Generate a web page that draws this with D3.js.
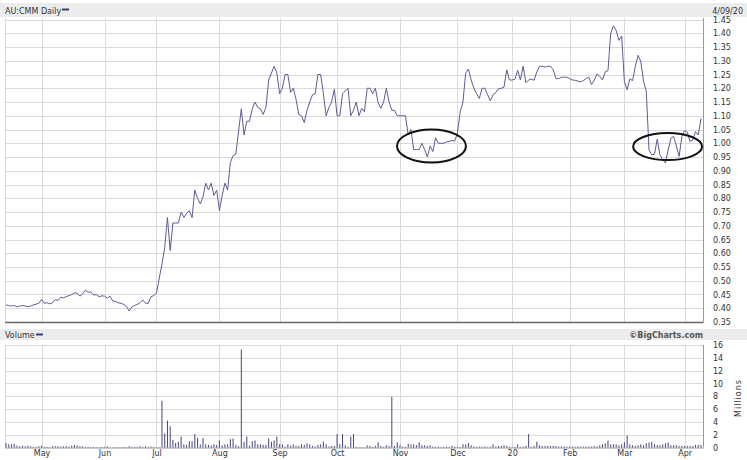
<!DOCTYPE html>
<html>
<head>
<meta charset="utf-8">
<script src="https://cdn.jsdelivr.net/npm/d3@7"></script>
<style>
body { margin: 0; background: #fff; }
svg text { font-family: "DejaVu Sans", Verdana, sans-serif; }
</style>
</head>
<body>
<svg id="chart" width="747" height="460"></svg>
<script>
// trading calendar (ASX), Apr 9 2019 - Apr 9 2020
const firstDay = "2019-04-09", lastDay = "2020-04-09";
const holidays = ["2019-04-19", "2019-04-22", "2019-04-25", "2019-06-10",
    "2019-12-25", "2019-12-26", "2020-01-01", "2020-01-27"];
const monthLabels = ["May", "Jun", "Jul", "Aug", "Sep", "Oct", "Nov", "Dec", "20", "Feb", "Mar", "Apr"];
const priceTicks = [0.35, 0.40, 0.45, 0.50, 0.55, 0.60, 0.65, 0.70, 0.75, 0.80, 0.85, 0.90,
    0.95, 1.00, 1.05, 1.10, 1.15, 1.20, 1.25, 1.30, 1.35, 1.40, 1.45];
const volumeTicks = [0, 2, 4, 6, 8, 10, 12, 14, 16];

// daily close, AUD
const closes = [
    0.412, 0.410, 0.408, 0.410, 0.405, 0.408, 0.410, 0.408, 0.406, 0.408,
    0.412, 0.415, 0.418, 0.432, 0.418, 0.420, 0.416, 0.420, 0.432, 0.428,
    0.440, 0.438, 0.442, 0.446, 0.450, 0.456, 0.455, 0.444, 0.452, 0.466,
    0.458, 0.460, 0.448, 0.450, 0.442, 0.445, 0.444, 0.437, 0.444, 0.426,
    0.425, 0.420, 0.418, 0.414, 0.407, 0.390, 0.405, 0.410, 0.414, 0.420,
    0.430, 0.418, 0.418, 0.442, 0.446, 0.455,
    0.51, 0.56, 0.62, 0.73, 0.61, 0.71, 0.71, 0.71, 0.75, 0.73,
    0.745, 0.755, 0.73, 0.83, 0.80, 0.78, 0.805, 0.855, 0.83, 0.855,
    0.81, 0.83, 0.755, 0.81, 0.855, 0.83, 0.93, 0.955, 0.96, 1.045,
    1.125, 1.03, 1.08, 1.08, 1.125, 1.15, 1.13, 1.125, 1.105, 1.13,
    1.23, 1.255, 1.28, 1.255, 1.18, 1.20, 1.25, 1.25, 1.185, 1.20,
    1.16, 1.105,
    1.10, 1.075, 1.12, 1.15, 1.176, 1.18, 1.25, 1.25, 1.18, 1.10,
    1.13, 1.15, 1.196, 1.10, 1.10, 1.18, 1.19, 1.20, 1.10, 1.12,
    1.15, 1.10, 1.127, 1.115, 1.20, 1.20, 1.18, 1.20, 1.148, 1.127,
    1.15, 1.20, 1.15, 1.12, 1.12, 1.10, 1.10, 1.10, 1.10, 1.03,
    1.05, 0.977, 0.977, 0.977, 1.00, 0.977, 0.95, 0.99, 0.97, 1.02,
    1.00, 1.00, 1.00, 1.005, 1.007, 1.01, 1.008, 1.037, 1.115, 1.15,
    1.255, 1.27, 1.23, 1.20, 1.18, 1.163,
    1.20, 1.20, 1.177, 1.154, 1.177, 1.185, 1.198, 1.20, 1.204, 1.267,
    1.23, 1.23, 1.233, 1.265, 1.23, 1.28, 1.22, 1.23, 1.233, 1.229,
    1.26, 1.28, 1.28, 1.277, 1.28, 1.28, 1.267, 1.235, 1.235, 1.24,
    1.24, 1.24, 1.235, 1.23, 1.229, 1.226, 1.223, 1.228, 1.235, 1.24,
    1.213, 1.23, 1.252, 1.243, 1.23, 1.26, 1.264, 1.40, 1.427, 1.41,
    1.374, 1.39, 1.225, 1.195, 1.234, 1.228, 1.28, 1.32, 1.298, 1.225,
    1.19,
    0.976, 0.958, 0.96, 1.015, 0.958, 0.94, 0.928, 0.976, 1.018, 1.025,
    0.99, 0.952, 1.025, 1.046, 1.04, 1.006, 1.012, 1.042, 1.03, 1.09
];

// daily volume, millions of shares
const volumes = [
    0.7, 0.5, 0.5, 0.6, 0.3, 0.2, 0.3, 0.2, 0.3, 0.2,
    0.1, 0.1, 0.2, 0.3, 0.1, 0.1, 0.05, 0.2, 0.2, 0.2,
    0.15, 0.2, 0.2, 0.15, 0.3, 0.4, 0.3, 0.2, 0.2, 0.1,
    0.1, 0.1, 0.1, 0.05, 0.05, 0.1, 0.1, 0.2, 0.05, 0.05,
    0.05, 0.05, 0.05, 0.1, 0.05, 0.2, 0.1, 0.1, 0.1, 0.2,
    0.1, 0.2, 0.1, 0.15, 0.1, 0.05, 0.05,
    7.3, 2.2, 4.2, 3.3, 1.2, 0.7, 0.9, 1.7, 0.5, 0.4,
    1.0, 1.0, 2.1, 1.5, 0.5, 1.5, 0.5, 0.4, 0.3, 0.5,
    0.4, 1.1, 0.3, 0.5, 0.5, 1.3, 1.4, 0.4, 0.2, 15.3,
    0.9, 1.7,
    0.3, 1.0, 1.1, 0.5, 0.5, 0.4, 0.4, 1.4, 0.9, 1.1, 1.7,
    0.5, 0.5, 0.15, 0.5, 0.25, 0.5, 0.25, 0.25, 0.5, 0.4,
    0.65, 0.5, 0.25, 0.15, 0.4, 0.5, 0.9, 0.5, 0.15, 0.25,
    0.25, 2.1, 0.5, 2.1, 0.35, 0.1, 1.7, 2.1, 0.1, 0.05,
    0.05, 0.05, 0.35, 0.25, 0.1, 0.25, 0.8, 0.25, 0.1, 0.35,
    0.25, 7.9, 0.25, 0.8, 0.35, 0.15, 0.1, 0.6, 0.5, 0.5,
    0.35, 0.8, 0.35, 0.35, 0.25, 0.35, 0.15, 0.1, 0.15, 0.1,
    0.1, 0.15, 0.1, 0.25, 0.15, 0.1, 0.1, 0.5, 0.5, 0.7,
    0.35, 0.15, 0.1, 0.15, 0.1, 0.15, 0.1, 0.15, 0.5, 0.15,
    0.25,
    0.25, 0.35, 0.25, 0.1, 0.1, 0.1, 0.5, 0.1, 0.15, 0.25,
    2.1, 0.1, 0.25, 0.9, 0.35, 0.25, 0.25, 0.25, 0.25, 0.25,
    0.25, 0.15, 0.15, 0.15, 0.15, 0.15, 0.15, 0.15, 0.15, 0.15,
    0.15, 0.15, 0.15, 0.15, 0.2, 0.2, 0.35, 0.5, 0.65, 1.1,
    0.5, 0.5, 0.5, 0.35, 0.5, 0.8, 1.9, 0.5, 0.35, 0.25,
    0.35, 0.5, 0.35, 0.65, 0.8, 0.9, 0.5, 0.35, 0.35, 0.5,
    0.65, 0.8, 0.35, 0.35, 0.35, 0.25, 0.25, 0.25, 0.25, 0.25,
    0.25, 0.4, 0.4, 0.4
];

// hand-drawn circles: centre (day index, price) and half sizes (days, price)
const ringDay = [155.5, 241.8];
const ringPrice = [0.99, 0.988];
const ringHalfDays = [12.6, 12.6];
const ringHalfPrice = [0.06, 0.049];

const fmtDay = d3.utcFormat("%Y-%m-%d");
const days = d3.utcDay.range(new Date(firstDay), d3.utcDay.offset(new Date(lastDay), 1))
    .filter(d => d.getUTCDay() !== 0 && d.getUTCDay() !== 6 && !holidays.includes(fmtDay(d)));

let monthStarts = [];
days.forEach((d, i) => {
    if (i > 0 && d.getUTCMonth() !== days[i - 1].getUTCMonth()) monthStarts.push(i);
});

const svg = d3.select("#chart");
const left = 5, right = 703;
const pTop = 18, pBottom = 322;
const vTop = 345, vBottom = 447.5;

const x = d3.scaleLinear().domain([0, days.length - 1]).range([6, 701]);
const yP = d3.scaleLinear().domain([0.35, 1.45]).range([pBottom, 19.5]);
const yV = d3.scaleLinear().domain([0, 16]).range([vBottom, vTop]);

// header bars
svg.append("rect").attr("x", 0).attr("y", 3).attr("width", 747).attr("height", 14).attr("fill", "#ececec");
svg.append("rect").attr("x", 0).attr("y", 329).attr("width", 747).attr("height", 11).attr("fill", "#ececec");

svg.append("text").attr("x", 5).attr("y", 13.5).attr("font-size", 8).attr("fill", "#333").text("AU:CMM Daily");
svg.append("rect").attr("x", 62).attr("y", 8.5).attr("width", 7).attr("height", 2).attr("fill", "#3a3a78");
svg.append("text").attr("x", 743).attr("y", 13.5).attr("font-size", 8).attr("fill", "#333")
    .attr("text-anchor", "end").text("4/09/20");

svg.append("text").attr("x", 5).attr("y", 338).attr("font-size", 8).attr("fill", "#333").text("Volume");
svg.append("rect").attr("x", 36).attr("y", 333.5).attr("width", 7).attr("height", 2).attr("fill", "#3a3a78");
svg.append("text").attr("x", 703).attr("y", 338).attr("font-size", 8).attr("font-weight", "bold")
    .attr("fill", "#555").attr("text-anchor", "end").text("\u00a9BigCharts.com");

// grids
const grid = svg.append("g").attr("stroke", "#dadada").attr("stroke-width", 1).attr("fill", "none");
grid.selectAll(".hp").data(priceTicks.slice(1)).join("line")
    .attr("x1", left).attr("x2", right)
    .attr("y1", d => Math.round(yP(d)) + 0.5).attr("y2", d => Math.round(yP(d)) + 0.5);
grid.selectAll(".hv").data(volumeTicks.slice(1)).join("line")
    .attr("x1", left).attr("x2", right)
    .attr("y1", d => Math.round(yV(d)) + 0.5).attr("y2", d => Math.round(yV(d)) + 0.5);
[[pTop, pBottom], [vTop, vBottom]].forEach(([t, b]) => {
    monthStarts.concat([null]).forEach(i => {
        let xx = i === null ? left + 0.5 : Math.round(x(i)) + 0.5;
        grid.append("line").attr("x1", xx).attr("x2", xx).attr("y1", t).attr("y2", b);
    });
});

// borders
svg.append("line").attr("x1", left).attr("x2", right + 0.5).attr("y1", pBottom + 0.5).attr("y2", pBottom + 0.5)
    .attr("stroke", "#666").attr("stroke-width", 1.5);
svg.append("line").attr("x1", right + 0.5).attr("x2", right + 0.5).attr("y1", pTop).attr("y2", pBottom)
    .attr("stroke", "#999");
svg.append("line").attr("x1", right + 0.5).attr("x2", right + 0.5).attr("y1", vTop).attr("y2", vBottom)
    .attr("stroke", "#999");
svg.append("line").attr("x1", left).attr("x2", right + 0.5).attr("y1", vBottom + 0.5).attr("y2", vBottom + 0.5)
    .attr("stroke", "#999");

// price line
const line = d3.line().x((d, i) => x(i)).y(d => yP(d));
svg.append("path").datum(closes).attr("fill", "none").attr("stroke", "#5c5c94")
    .attr("stroke-width", 1).attr("stroke-linejoin", "round").attr("d", line);

// volume bars
svg.append("g").selectAll("rect").data(volumes).join("rect")
    .attr("x", (d, i) => x(i) - 0.5).attr("width", 1)
    .attr("y", d => yV(d)).attr("height", d => yV(0) - yV(d))
    .attr("fill", "#43437f");

// circles drawn over the chart
svg.append("g").selectAll("ellipse").data(ringDay).join("ellipse")
    .attr("cx", d => x(d))
    .attr("cy", (d, k) => yP(ringPrice[k]))
    .attr("rx", (d, k) => x(d + ringHalfDays[k]) - x(d))
    .attr("ry", (d, k) => yP(ringPrice[k] - ringHalfPrice[k]) - yP(ringPrice[k]))
    .attr("fill", "none").attr("stroke", "#111").attr("stroke-width", 2);

// axes
const styleAxis = g => {
    g.select(".domain").remove();
    g.selectAll("text").attr("font-size", 8).attr("fill", "#333")
        .attr("font-family", "DejaVu Sans, Verdana, sans-serif");
};
svg.append("g").attr("transform", `translate(${right},0)`)
    .call(d3.axisRight(yP).tickValues(priceTicks).tickFormat(d3.format(".2f")).tickSize(0).tickPadding(10))
    .call(styleAxis);
svg.append("g").attr("transform", `translate(${right},0)`)
    .call(d3.axisRight(yV).tickValues(volumeTicks).tickFormat(d3.format("d")).tickSize(0).tickPadding(10))
    .call(styleAxis);
svg.append("g").attr("transform", `translate(0,${vBottom})`)
    .call(d3.axisBottom(x).tickValues(monthStarts).tickFormat((d, k) => monthLabels[k]).tickSize(0).tickPadding(3))
    .call(styleAxis);

svg.append("text").attr("transform", "translate(741,398) rotate(-90)")
    .attr("text-anchor", "middle").attr("font-size", 8).attr("fill", "#333")
    .attr("letter-spacing", 1).text("Millions");
</script>
</body>
</html>
